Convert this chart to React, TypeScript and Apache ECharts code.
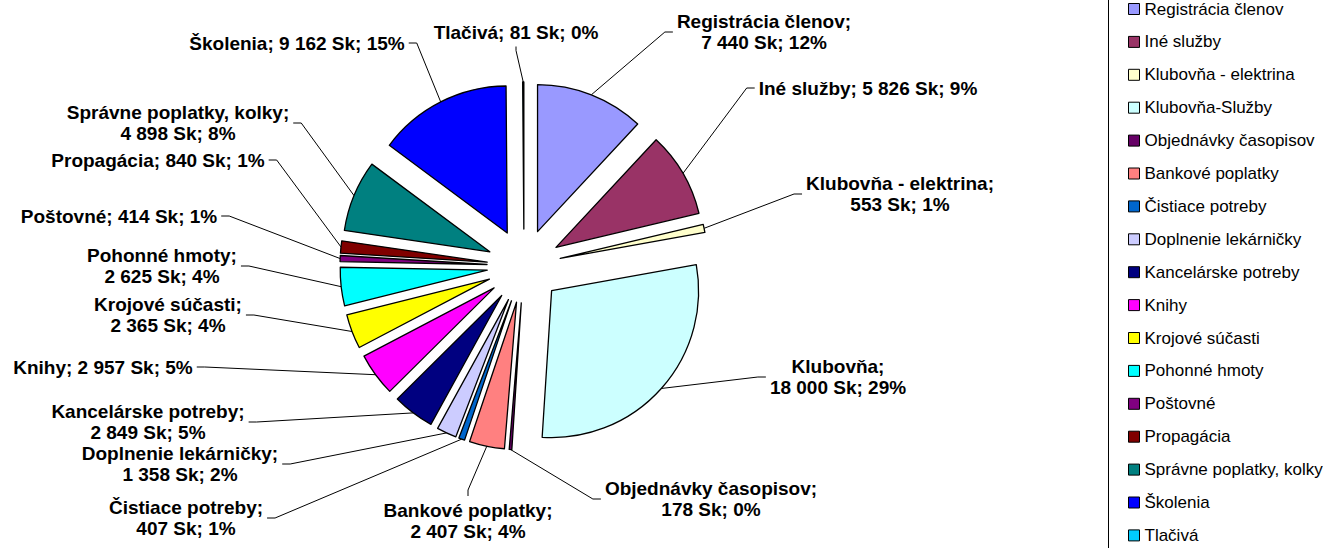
import React, { useEffect, useRef } from 'react';
import * as echarts from 'echarts';

const categories = [
  'Registrácia členov', 'Iné služby', 'Klubovňa - elektrina', 'Klubovňa-Služby',
  'Objednávky časopisov', 'Bankové poplatky', 'Čistiace potreby', 'Doplnenie lekárničky',
  'Kancelárske potreby', 'Knihy', 'Krojové súčasti', 'Pohonné hmoty', 'Poštovné',
  'Propagácia', 'Správne poplatky, kolky', 'Školenia', 'Tlačivá',
];
const labelNames = [
  'Registrácia členov', 'Iné služby', 'Klubovňa - elektrina', 'Klubovňa',
  'Objednávky časopisov', 'Bankové poplatky', 'Čistiace potreby', 'Doplnenie lekárničky',
  'Kancelárske potreby', 'Knihy', 'Krojové súčasti', 'Pohonné hmoty', 'Poštovné',
  'Propagácia', 'Správne poplatky, kolky', 'Školenia', 'Tlačivá',
];
const values = [7440, 5826, 553, 18000, 178, 2407, 407, 1358, 2849, 2957, 2365, 2625, 414, 840, 4898, 9162, 81];
const unit = 'Sk';
const singleLine = [false, true, false, false, false, false, false, false, false, true, false, false, true, true, false, true, true];

const colors = [
  '#9999FF', '#993366', '#FFFFCC', '#CCFFFF', '#660066', '#FF8080', '#0066CC', '#CCCCFF',
  '#000080', '#FF00FF', '#FFFF00', '#00FFFF', '#800080', '#800000', '#008080', '#0000FF', '#00CCFF',
];

// label block centres and the side the leader line enters from
const labelPlaces: [number, number, string][] = [
  [764, 32, 'left'], [868, 88, 'left'], [900, 194, 'left'], [838, 377, 'left'],
  [711, 499, 'left'], [468, 521, 'top'], [186, 518, 'right'], [180, 464, 'right'],
  [148, 422, 'right'], [103, 367, 'right'], [168, 315, 'right'], [162, 266, 'right'],
  [119, 216, 'right'], [158, 160, 'right'], [178, 123, 'right'], [297, 43, 'right'],
  [516, 32, 'bottom'],
];

const CX = 524;
const CY = 266;
const R = 147;
const OFF = 37;

const fmt = (v: number) => String(v).replace(/\B(?=(\d{3})+(?!\d))/g, ' ');

export default function App() {
  const ref = useRef<HTMLDivElement>(null);
  useEffect(() => {
    if (!ref.current) return;
    const chart = echarts.init(ref.current, undefined, { renderer: 'svg' });
    const total = values.reduce((a, b) => a + b, 0);
    chart.setOption({
      animation: false,
      backgroundColor: '#fff',
      legend: {
        orient: 'vertical',
        left: 1128,
        top: 0.5,
        padding: 0,
        itemWidth: 11,
        itemHeight: 11,
        itemGap: 15.9,
        icon: 'rect',
        selectedMode: false,
        itemStyle: { borderColor: '#000', borderWidth: 1 },
        textStyle: { fontSize: 17, lineHeight: 17, color: '#000', fontFamily: 'Liberation Sans, Arial, sans-serif' },
        data: categories,
      },
      graphic: [
        {
          type: 'rect',
          shape: { x: 1108.5, y: -5, width: 300, height: 560 },
          style: { fill: 'none', stroke: '#000', lineWidth: 1 },
          silent: true,
        },
      ],
      series: [
        {
          type: 'pie',
          name: 'slices',
          center: [CX, CY],
          radius: R,
          startAngle: 90,
          clockwise: true,
          selectedMode: 'multiple',
          selectedOffset: OFF,
          emphasis: { disabled: true },
          itemStyle: { borderColor: '#000', borderWidth: 1.3 },
          select: { itemStyle: { borderColor: '#000', borderWidth: 1.3 } },
          label: { show: false },
          labelLine: { show: false },
          data: categories.map((name, i) => ({
            name,
            value: values[i],
            selected: true,
            itemStyle: { color: colors[i] },
          })),
        },
        {
          type: 'pie',
          name: 'labels',
          center: [CX, CY],
          radius: R,
          startAngle: 90,
          clockwise: true,
          silent: true,
          avoidLabelOverlap: false,
          selectedMode: false,
          emphasis: { disabled: true },
          itemStyle: { color: 'rgba(0,0,0,0)', borderWidth: 0 },
          label: {
            show: true,
            position: 'outside',
            color: '#000',
            opacity: 1,
            fontWeight: 'bold',
            fontSize: 19,
            lineHeight: 21,
            fontFamily: 'Liberation Sans, Arial, sans-serif',
            formatter: (p: any) => {
              const i = p.dataIndex;
              const pct = Math.round((values[i] / total) * 100);
              return `${labelNames[i]};${singleLine[i] ? ' ' : '\n'}${fmt(values[i])} ${unit}; ${pct}%`;
            },
          },
          labelLine: { show: true, length: 10, length2: 10, lineStyle: { color: '#000', width: 1, opacity: 1 } },
          labelLayout: (params: any) => {
            const i = params.dataIndex;
            const [lx, ly, side] = labelPlaces[i];
            const w = params.labelRect.width;
            const h = params.labelRect.height;
            const p0 = params.labelLinePoints ? params.labelLinePoints[0] : [CX, CY - R];
            let dx = p0[0] - CX;
            let dy = p0[1] - CY;
            const d = Math.sqrt(dx * dx + dy * dy) || 1;
            dx /= d;
            dy /= d;
            const anchor = [CX + dx * (R + OFF), CY + dy * (R + OFF)];
            let end: number[];
            let elbow: number[];
            if (side === 'left') {
              end = [lx - w / 2 - 4, ly];
              elbow = [lx - w / 2 - 12, ly];
            } else if (side === 'right') {
              end = [lx + w / 2 + 4, ly];
              elbow = [lx + w / 2 + 12, ly];
            } else if (side === 'top') {
              end = [lx, ly - h / 2 - 4];
              elbow = [lx, ly - h / 2 - 10];
            } else {
              end = [lx, ly + h / 2 + 4];
              elbow = [lx, ly + h / 2 + 8];
            }
            return {
              x: lx,
              y: ly,
              align: 'center',
              verticalAlign: 'middle',
              labelLinePoints: [anchor, elbow, end],
            };
          },
          data: categories.map((name, i) => ({ name, value: values[i] })),
        },
      ],
    });
    return () => chart.dispose();
  }, []);
  return <div ref={ref} style={{ position: 'absolute', left: 0, top: 0, width: 1323, height: 548 }} />;
}
